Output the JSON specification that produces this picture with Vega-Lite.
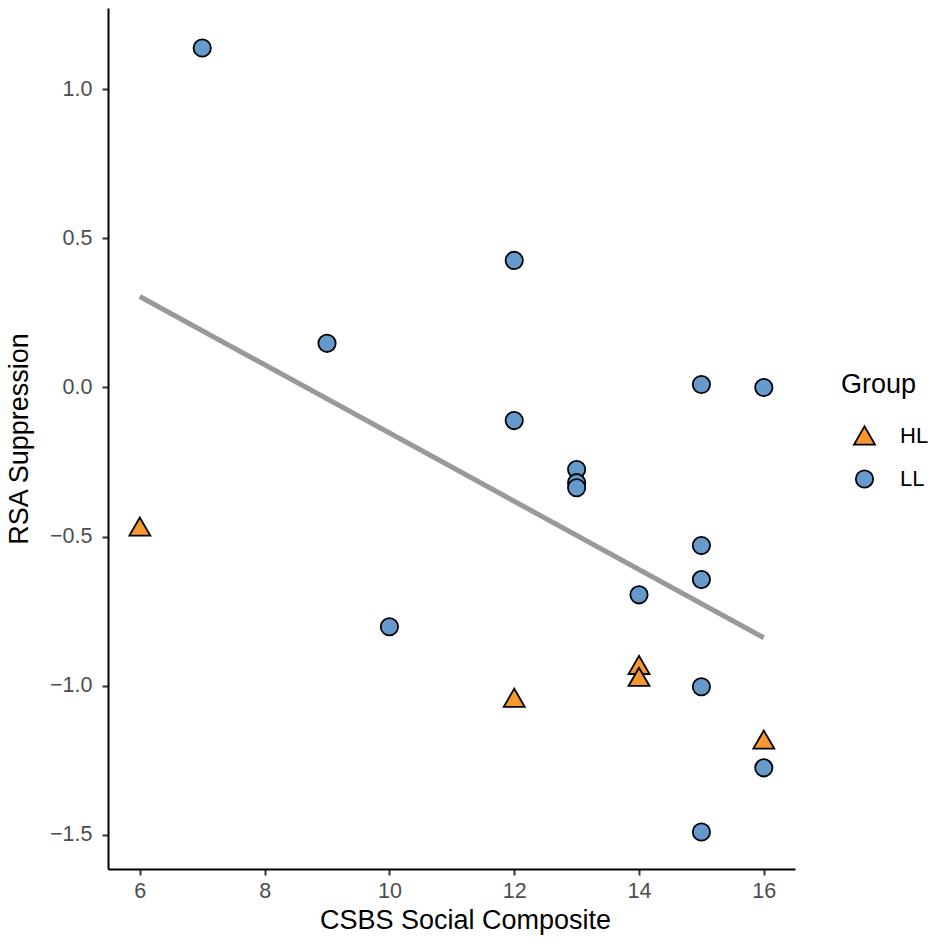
{
  "$schema": "https://vega.github.io/schema/vega-lite/v6.json",
  "autosize": "none",
  "width": 687,
  "height": 861,
  "padding": {"left": 108, "top": 8, "right": 142, "bottom": 75},
  "background": "white",
  "config": {
    "view": {"stroke": null},
    "font": "Liberation Sans"
  },
  "datasets": {
    "pts": [
      {"x": 7, "y": 1.138, "Group": "LL"},
      {"x": 12, "y": 0.426, "Group": "LL"},
      {"x": 9, "y": 0.148, "Group": "LL"},
      {"x": 15, "y": 0.01, "Group": "LL"},
      {"x": 16, "y": 0.0, "Group": "LL"},
      {"x": 12, "y": -0.111, "Group": "LL"},
      {"x": 13, "y": -0.275, "Group": "LL"},
      {"x": 13, "y": -0.319, "Group": "LL"},
      {"x": 13, "y": -0.336, "Group": "LL"},
      {"x": 15, "y": -0.53, "Group": "LL"},
      {"x": 15, "y": -0.644, "Group": "LL"},
      {"x": 14, "y": -0.695, "Group": "LL"},
      {"x": 10, "y": -0.802, "Group": "LL"},
      {"x": 15, "y": -1.003, "Group": "LL"},
      {"x": 16, "y": -1.275, "Group": "LL"},
      {"x": 15, "y": -1.49, "Group": "LL"},
      {"x": 6, "y": -0.466, "Group": "HL"},
      {"x": 12, "y": -1.04, "Group": "HL"},
      {"x": 14, "y": -0.93, "Group": "HL"},
      {"x": 14, "y": -0.97, "Group": "HL"},
      {"x": 16, "y": -1.18, "Group": "HL"}
    ],
    "fit": [
      {"x": 6, "y": 0.305},
      {"x": 16, "y": -0.839}
    ]
  },
  "layer": [
    {
      "data": {"name": "pts"},
      "mark": {"type": "point", "filled": true, "stroke": "black", "strokeWidth": 1.8, "opacity": 1},
      "encoding": {
        "x": {
          "field": "x", "type": "quantitative",
          "scale": {"domain": [5.49, 16.5], "nice": false, "zero": false},
          "axis": {"values": [6, 8, 10, 12, 14, 16], "format": "d", "title": "CSBS Social Composite",
            "grid": false, "domainColor": "black", "domainWidth": 2, "tickColor": "#333333", "tickWidth": 2, "tickSize": 6,
            "labelColor": "#4D4D4D", "labelFontSize": 21.5, "labelFont": "Liberation Sans", "labelPadding": 5,
            "titleFont": "Liberation Sans", "titleFontSize": 27, "titleFontWeight": "normal", "titleColor": "black", "titlePadding": 6, "titleX": 357}
        },
        "y": {
          "field": "y", "type": "quantitative",
          "scale": {"domain": [-1.614, 1.272], "nice": false, "zero": false},
          "axis": {"values": [-1.5, -1, -0.5, 0, 0.5, 1], "format": ".1f", "title": "RSA Suppression",
            "grid": false, "domainColor": "black", "domainWidth": 2, "tickColor": "#333333", "tickWidth": 2, "tickSize": 6,
            "labelColor": "#4D4D4D", "labelFontSize": 21.5, "labelFont": "Liberation Sans", "labelPadding": 10,
            "titleFont": "Liberation Sans", "titleFontSize": 27, "titleFontWeight": "normal", "titleColor": "black", "titlePadding": 16}
        },
        "fill": {
          "field": "Group", "type": "nominal",
          "scale": {"domain": ["HL", "LL"], "range": ["#F7972F", "#6699CC"]},
          "legend": {"title": "Group", "orient": "none", "legendX": 733, "legendY": 364, "titleFont": "Liberation Sans", "labelFont": "Liberation Sans", "titleFontSize": 27, "titleFontWeight": "normal", "titleColor": "black", "labelFontSize": 22, "labelColor": "black", "symbolStrokeColor": "black", "symbolStrokeWidth": 1.8, "rowPadding": 17, "labelOffset": 24, "titlePadding": 25, "symbolOffset": 12}
        },
        "shape": {
          "field": "Group", "type": "nominal",
          "scale": {"domain": ["HL", "LL"], "range": ["triangle-up", "circle"]},
          "legend": {"title": "Group"}
        },
        "size": {
          "field": "Group", "type": "nominal",
          "scale": {"domain": ["HL", "LL"], "range": [440, 300]},
          "legend": {"title": "Group"}
        }
      }
    },
    {
      "data": {"name": "fit"},
      "mark": {"type": "line", "color": "#999999", "strokeWidth": 5, "strokeCap": "butt"},
      "encoding": {
        "x": {"field": "x", "type": "quantitative"},
        "y": {"field": "y", "type": "quantitative"}
      }
    }
  ]
}
